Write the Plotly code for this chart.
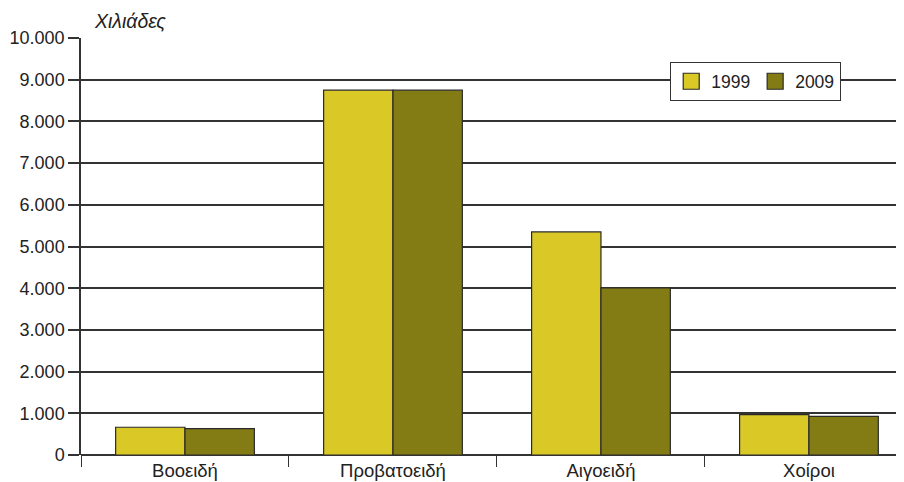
import plotly.graph_objects as go

categories = ["Βοοειδή", "Προβατοειδή", "Αιγοειδή", "Χοίροι"]
series_names = ["1999", "2009"]
values_1999 = [666, 8750, 5350, 966]
values_2009 = [634, 8750, 4010, 927]
y_tickvals = [0, 1000, 2000, 3000, 4000, 5000, 6000, 7000, 8000, 9000, 10000]
y_title = "Χιλιάδες"

colors = ["#D9C826", "#837B14"]
font = "Liberation Sans, Arial, sans-serif"
edge = "#2a2a2a"

fig = go.Figure()
for name, vals, col in zip(series_names, [values_1999, values_2009], colors):
    fig.add_trace(go.Bar(
        x=categories, y=vals, name=name, showlegend=False,
        marker=dict(color=col, line=dict(color=edge, width=1.2)),
    ))
# legend entries with larger square swatches
for name, col in zip(series_names, colors):
    fig.add_trace(go.Scatter(
        x=[None], y=[None], mode="markers", name=name,
        marker=dict(symbol="square", size=18, color=col, line=dict(color=edge, width=1.2)),
    ))

fig.update_layout(
    width=896, height=474,
    margin=dict(l=73, r=0, t=30, b=27),
    paper_bgcolor="white", plot_bgcolor="white",
    barmode="group", bargap=0.333, bargroupgap=0,
    separators=",.",
    font=dict(family=font, size=17.5, color="#222"),
    legend=dict(
        orientation="h", x=0.7157, y=0.942, xanchor="left", yanchor="top",
        bgcolor="white", bordercolor="#333", borderwidth=1.2,
        font=dict(size=17.5, color="#222"),
        itemsizing="trace", itemwidth=30, tracegroupgap=0,
    ),
    annotations=[dict(
        text="<i>" + y_title + "</i>", xref="paper", yref="paper",
        x=0.0134, y=1.0, xanchor="left", yanchor="middle", yshift=17,
        showarrow=False, font=dict(size=19.5, color="#222", family=font),
    )],
)

fig.update_xaxes(
    type="category", range=[-0.5, 3.457],
    tickson="boundaries", ticks="outside", ticklen=11, tickcolor="#333", tickwidth=1.3,
    showline=False, showgrid=False, zeroline=False,
    tickfont=dict(size=18.5, color="#222"), ticklabelstandoff=2,
)
fig.update_yaxes(
    range=[0, 10000], tickvals=y_tickvals, tickformat=",d",
    ticks="outside", ticklen=11, tickcolor="#333", tickwidth=1.5,
    showgrid=True, gridcolor="#333", gridwidth=1.5,
    showline=True, linecolor="#333", linewidth=1.5,
    zeroline=True, zerolinecolor="#333", zerolinewidth=1.5,
    tickfont=dict(size=18, color="#222"),
)

fig.write_html("out.html")
